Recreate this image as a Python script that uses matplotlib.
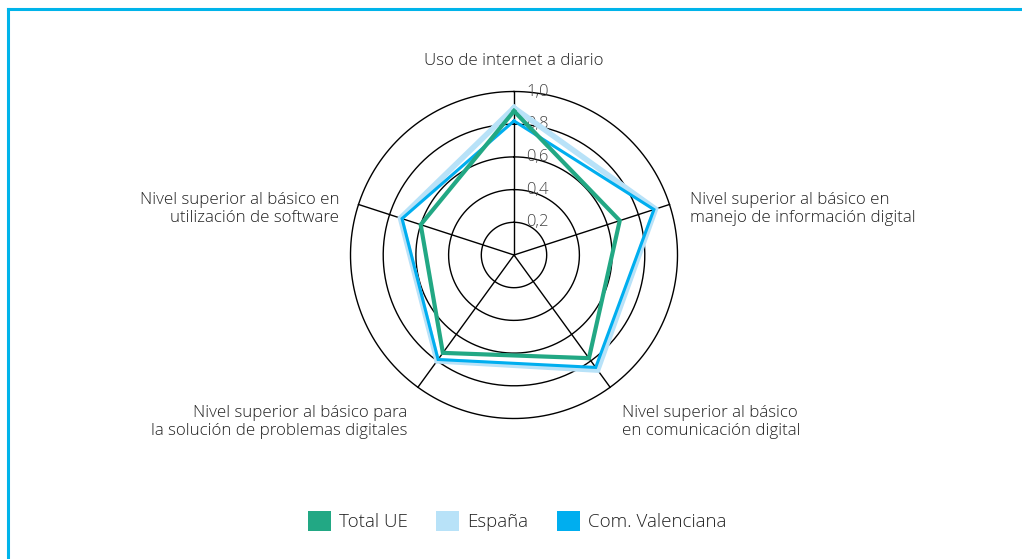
import numpy as np
import matplotlib
matplotlib.use("Agg")
import matplotlib.pyplot as plt
from matplotlib.patches import Patch
from matplotlib.lines import Line2D
import matplotlib.transforms as mtransforms

plt.rcParams['font.family'] = ['Open Sans', 'DejaVu Sans']

categories = [
    "Uso de internet a diario",
    "Nivel superior al básico en\nmanejo de información digital",
    "Nivel superior al básico\nen comunicación digital",
    "Nivel superior al básico para\nla solución de problemas digitales",
    "Nivel superior al básico en\nutilización de software",
]
total_ue = [0.88, 0.68, 0.78, 0.74, 0.60]
espana = [0.90, 0.91, 0.87, 0.80, 0.73]
valenciana = [0.82, 0.90, 0.85, 0.79, 0.72]
r_ticks = [0.2, 0.4, 0.6, 0.8, 1.0]
r_tick_labels = ["0,2", "0,4", "0,6", "0,8", "1,0"]

c_ue = "#22A884"
c_es = "#B8E2F8"
c_va = "#00AEEF"
txt = "#222222"

W, H = 1022, 559
fig = plt.figure(figsize=(W / 100, H / 100), dpi=100)

cx, cy, R = 514, 255, 163.5
ax = fig.add_axes([(cx - R) / W, (H - cy - R) / H, 2 * R / W, 2 * R / H],
                  projection="polar")
ax.set_theta_zero_location("N")
ax.set_theta_direction(-1)
ax.set_ylim(0, 1)
ax.axis("off")

n = len(categories)
angles = np.arange(n) * 2 * np.pi / n

# grid circles
tt = np.linspace(0, 2 * np.pi, 400)
for r in r_ticks:
    ax.plot(tt, np.full_like(tt, r), color="black", lw=1.0, zorder=1,
            clip_on=False)
# spokes
for a in angles:
    ax.plot([a, a], [0, 1], color="black", lw=1.0, zorder=1, clip_on=False)

# tick labels
offs = mtransforms.offset_copy(ax.transData, fig=fig, x=12, y=0, units="dots")
for r, lab in zip(r_ticks, r_tick_labels):
    ax.text(0, r, lab, transform=offs, ha="left", va="center",
            fontsize=12, color="#444444", zorder=2, fontweight="light")

def closed(v):
    return list(v) + [v[0]]

ang_c = list(angles) + [angles[0]]
ax.plot(ang_c, closed(espana), color=c_es, lw=4.0, zorder=3,
        solid_joinstyle="miter", clip_on=False)
ax.plot(ang_c, closed(valenciana), color=c_va, lw=2.2, zorder=4,
        solid_joinstyle="miter", clip_on=False)
ax.plot(ang_c, closed(total_ue), color=c_ue, lw=3.0, zorder=5,
        solid_joinstyle="miter", clip_on=False)

# category labels (pixel positions relative to figure)
def fig_xy(px, py):
    return px / W, 1 - py / H

lab_pos = [
    (514, 61, "center", "center"),
    (690, 209, "left", "center"),
    (622, 422, "left", "center"),
    (407, 422, "right", "center"),
    (339, 209, "right", "center"),
]
for lab, (px, py, ha, va) in zip(categories, lab_pos):
    x, y = fig_xy(px, py)
    fig.text(x, y, lab, ha=ha, va=va, fontsize=12.2, color=txt,
             linespacing=1.12, fontweight="light",
             multialignment=ha if ha != "center" else "center")

# legend
handles = [Patch(facecolor=c_ue, edgecolor="none"),
           Patch(facecolor=c_es, edgecolor="none"),
           Patch(facecolor=c_va, edgecolor="none")]
labels = ["Total UE", "España", "Com. Valenciana"]
leg = fig.legend(handles, labels, loc="center", bbox_to_anchor=(517 / W, 1 - 521 / H),
                 ncol=3, frameon=False, handlelength=1.23,
                 handleheight=1.23, handletextpad=0.45, columnspacing=1.5,
                 labelcolor=txt, prop={"weight": "light", "size": 13.5})

# frame border
border = "#00B4EA"
fig.add_artist(Line2D([7.5 / W, 7.5 / W], [0, 1 - 8.5 / H], color=border,
                      lw=2.2, transform=fig.transFigure, solid_capstyle="projecting"))
fig.add_artist(Line2D([7.5 / W, 1.0], [1 - 8.5 / H, 1 - 8.5 / H], color=border,
                      lw=2.2, transform=fig.transFigure, solid_capstyle="projecting"))

fig.savefig("out.png", dpi=100)
